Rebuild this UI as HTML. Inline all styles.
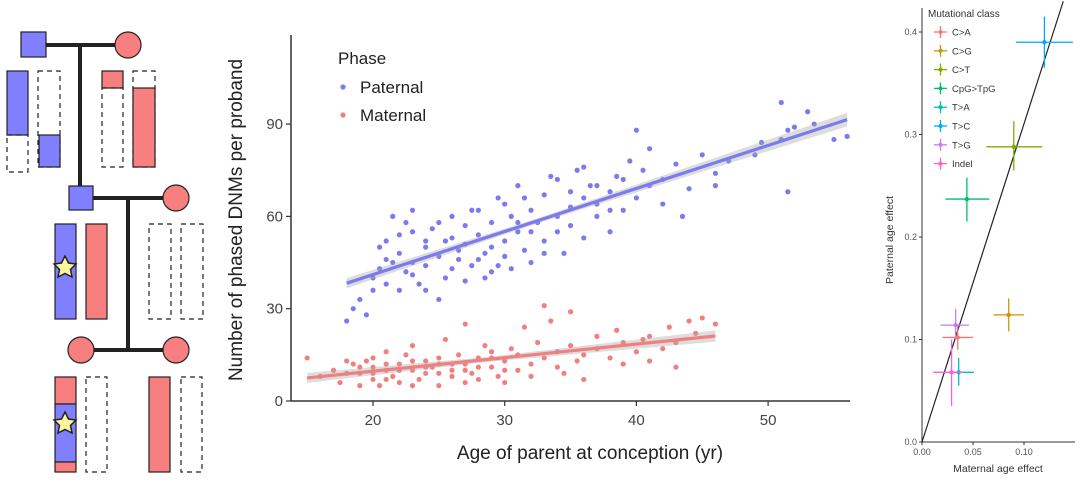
<!DOCTYPE html>
<html><head><meta charset="utf-8"><style>
body{margin:0;background:#fff}
svg{display:block;font-family:"Liberation Sans",Arial,sans-serif}
</style></head><body>
<svg id="fig" width="1080" height="485" viewBox="0 0 1080 485">
<g id="pedigree" stroke="#222" stroke-width="1.2">
  <line x1="46" y1="45" x2="115" y2="45" stroke-width="4"/>
  <line x1="80" y1="45" x2="80" y2="190" stroke-width="4"/>
  <rect x="21" y="32" width="25" height="25" fill="#7f7fff"/>
  <circle cx="128" cy="45" r="13" fill="#f77f7f"/>
  <rect x="7" y="71" width="21" height="64" fill="#7f7fff"/>
  <rect x="7" y="135" width="21" height="37" fill="none" stroke-dasharray="5,4"/>
  <rect x="38" y="71" width="22" height="96" fill="none" stroke-dasharray="5,4"/>
  <rect x="39" y="135" width="21" height="32" fill="#7f7fff"/>
  <rect x="102" y="71" width="21" height="17" fill="#f77f7f"/>
  <rect x="102" y="88" width="21" height="79" fill="none" stroke-dasharray="5,4"/>
  <rect x="133" y="71" width="22" height="96" fill="none" stroke-dasharray="5,4"/>
  <rect x="133" y="88" width="22" height="79" fill="#f77f7f"/>
  <line x1="93" y1="198" x2="163" y2="198" stroke-width="4"/>
  <line x1="128" y1="198" x2="128" y2="350" stroke-width="4"/>
  <rect x="69" y="186" width="24" height="24" fill="#7f7fff"/>
  <circle cx="176" cy="198" r="13" fill="#f77f7f"/>
  <rect x="55" y="224" width="21" height="95" fill="#7f7fff"/>
  <rect x="86" y="224" width="21" height="95" fill="#f77f7f"/>
  <rect x="149" y="224" width="22" height="95" fill="none" stroke-dasharray="5,4"/>
  <rect x="181" y="224" width="22" height="95" fill="none" stroke-dasharray="5,4"/>
  <polygon points="65,256 68.5,263 76,264 70.5,269.5 72,277 65,273.5 58,277 59.5,269.5 54,264 61.5,263" fill="#fbf59b" stroke-width="1.5"/>
  <line x1="94" y1="350" x2="163" y2="350" stroke-width="4"/>
  <circle cx="81" cy="350" r="13" fill="#f77f7f"/>
  <circle cx="176" cy="350" r="13" fill="#f77f7f"/>
  <rect x="55" y="377" width="21" height="27" fill="#f77f7f"/>
  <rect x="55" y="404" width="21" height="58" fill="#7f7fff"/>
  <rect x="55" y="462" width="21" height="10" fill="#f77f7f"/>
  <polygon points="65,412 68.5,419 76,420 70.5,425.5 72,433 65,429.5 58,433 59.5,425.5 54,420 61.5,419" fill="#fbf59b" stroke-width="1.5"/>
  <rect x="86" y="377" width="21" height="95" fill="none" stroke-dasharray="5,4"/>
  <rect x="149" y="377" width="21" height="95" fill="#f77f7f"/>
  <rect x="181" y="377" width="21" height="95" fill="none" stroke-dasharray="5,4"/>
</g>
<g id="main"></g>
<g id="right"></g>
</svg>
<script>
const patAge=[18,18.5,19,19.5,20,20,20.5,21,21,21,21.5,22,22,22.5,23,23,23,23.5,24,24,24.5,25,25,25.5,26,26,26.5,27,27,27.5,28,28,28.5,29,29,29.5,30,30,30.5,31,31,31.5,32,32,32.5,33,33,34,34,34.5,35,35,35.5,36,36,36.5,37,37,38,38,38.5,39,39,39.5,40,40,40.5,41,41,42,42,43,43.5,44,45,46,46,47,49,49.5,51,51,51.5,51.5,52,53,53.5,55,56,20.5,21.5,22,22.5,23,24,24,25,25.5,26,26.5,27,27.5,28,28.5,29,29.5,30,30.5,31,31.5,32,33,33.5,34,35,36,37,38];
const patVal=[26,30,33,28,36,40,43,38,46,52,60,48,36,42,45,55,62,38,50,44,56,47,33,52,43,60,49,39,57,44,54,62,48,58,42,66,52,47,60,55,70,49,62,45,58,67,52,60,72,48,63,57,75,66,53,70,60,64,68,55,73,72,62,78,66,88,75,70,82,64,72,77,60,69,80,74,70,78,80,84,85,97,88,68,89,94,90,85,86,50,45,54,58,41,36,52,58,40,53,46,51,62,46,40,50,44,64,43,58,66,55,48,73,55,68,76,70,62];
const matAge=[15,16,17,17.5,18,18.5,19,19,19.5,20,20,20,20.5,21,21,21.5,22,22,22.5,23,23,23.5,24,24,24.5,25,25,25.5,26,26,26.5,27,27,27.5,28,28,28.5,29,29,29.5,30,30,30.5,31,31,31.5,32,32,32.5,33,33,33.5,34,34,34.5,35,35,35.5,36,36,37,37,38,38.5,39,39,40,40.5,41,41,42,42.5,43,43,44,44.5,45,46,18,19,20,21,22,23,24,25,26,27,28,29,30,21,23,25,27];
const matVal=[14,8,10,6,9,12,5,9,13,7,11,14,5,10,16,8,12,6,15,10,18,7,13,9,11,5,14,20,10,8,15,12,25,9,14,7,18,11,16,8,13,6,17,10,15,24,12,8,19,31,14,26,11,16,9,18,29,13,15,7,17,21,14,23,12,19,16,20,13,21,17,24,11,19,26,22,27,25,13,11,9,12,10,13,11,9,12,10,11,14,10,7,5,12,6];
const xTicks=[20,30,40,50];
const yTicks=[0,30,60,90];

const classes=["C>A","C>G","C>T","CpG>TpG","T>A","T>C","T>G","Indel"];
const colors=["#F8766D","#CD9600","#7CAE00","#00BE67","#00BFC4","#00A9FF","#C77CFF","#FF61CC"];
const matEff=[0.035,0.085,0.090,0.044,0.036,0.120,0.033,0.029];
const patEff=[0.102,0.124,0.288,0.237,0.068,0.390,0.114,0.068];
const matLo=[0.020,0.070,0.063,0.023,0.026,0.092,0.018,0.011];
const matHi=[0.050,0.100,0.118,0.066,0.051,0.148,0.046,0.040];
const patLo=[0.090,0.108,0.265,0.215,0.055,0.365,0.100,0.035];
const patHi=[0.115,0.140,0.313,0.258,0.082,0.415,0.130,0.100];
const rxTicks=[0,0.05,0.10];
const rxLabels=["0.00","0.05","0.10"];
const ryTicks=[0,0.1,0.2,0.3,0.4];
const ryLabels=["0.0","0.1","0.2","0.3","0.4"];

const NS="http://www.w3.org/2000/svg";
function mk(parent,tag,attrs){const e=document.createElementNS(NS,tag);for(const k in attrs)e.setAttribute(k,attrs[k]);parent.appendChild(e);return e;}

const g=document.getElementById('main');
const X=a=>373+(a-20)*13.17;
const Y=v=>401-v*3.077;
let e;
e=mk(g,'line',{x1:291,y1:35,x2:291,y2:401,stroke:'#333','stroke-width':1.5});


e=mk(g,'line',{x1:291,y1:401,x2:850,y2:401,stroke:'#333','stroke-width':1.5});


xTicks.forEach(t=>{
  mk(g,'line',{x1:X(t),y1:401,x2:X(t),y2:406,stroke:'#333','stroke-width':1.2});
  e=mk(g,'text',{x:X(t),y:425,'text-anchor':'middle','font-size':15,fill:'#444'});e.textContent=t;
  
  
});
yTicks.forEach(t=>{
  mk(g,'line',{x1:286,y1:Y(t),x2:291,y2:Y(t),stroke:'#333','stroke-width':1.2});
  e=mk(g,'text',{x:283,y:Y(t)+5,'text-anchor':'end','font-size':15,fill:'#444'});e.textContent=t;
  
  
});
e=mk(g,'text',{x:590,y:459,'text-anchor':'middle','font-size':19,fill:'#222'});e.textContent='Age of parent at conception (yr)';


e=mk(g,'text',{x:0,y:0,transform:'translate(242,220) rotate(-90)','text-anchor':'middle','font-size':19,fill:'#222'});e.textContent='Number of phased DNMs per proband';



function fit(ax,vals){const n=ax.length;let mx=0,my=0;for(let i=0;i<n;i++){mx+=ax[i];my+=vals[i];}mx/=n;my/=n;let sxy=0,sxx=0;for(let i=0;i<n;i++){sxy+=(ax[i]-mx)*(vals[i]-my);sxx+=(ax[i]-mx)**2;}const b=sxy/sxx;return {a:my-b*mx,b,mx};}
function series(ages,vals,col,name){
  const sg=mk(g,'g',{});
  
  
  ages.forEach((a,i)=>{
    const c=mk(sg,'circle',{cx:X(a),cy:Y(vals[i]),r:2.6,fill:col});
    
    
  });
  const f=fit(ages,vals);const lo=Math.min(...ages),hi=Math.max(...ages);
  const pts=[],pts2=[];
  for(let k=0;k<=20;k++){const a=lo+(hi-lo)*k/20;const y=f.a+f.b*a;const w=0.8+0.06*Math.abs(a-f.mx);pts.push(X(a)+','+Y(y+w));pts2.unshift(X(a)+','+Y(y-w));}
  e=mk(sg,'polygon',{points:pts.concat(pts2).join(' '),fill:'#aaa','fill-opacity':0.4});
  
  
  e=mk(sg,'line',{x1:X(lo),y1:Y(f.a+f.b*lo),x2:X(hi),y2:Y(f.a+f.b*hi),stroke:col,'stroke-width':3.2});
  
  
}
series(patAge,patVal,'#7b7bee','paternal');
series(matAge,matVal,'#f08080','maternal');
const lg=mk(g,'g',{});


e=mk(lg,'text',{x:338,y:64,'font-size':17,fill:'#222'});e.textContent='Phase';


[['Paternal','#7b7bee',93],['Maternal','#f08080',121]].forEach(([t,c,y])=>{
  e=mk(lg,'circle',{cx:343,cy:y-6,r:2.6,fill:c});
  
  
  e=mk(lg,'text',{x:360,y:y,'font-size':17,fill:'#222'});e.textContent=t;
  
  
});

const r=document.getElementById('right');
const RX=v=>922+v*1020;
const RY=v=>442-v*1025;
e=mk(r,'line',{x1:922,y1:8,x2:922,y2:442,stroke:'#333','stroke-width':1});


e=mk(r,'line',{x1:922,y1:442,x2:1075,y2:442,stroke:'#333','stroke-width':1});


rxTicks.forEach((t,i)=>{
  mk(r,'line',{x1:RX(t),y1:442,x2:RX(t),y2:445,stroke:'#333'});
  e=mk(r,'text',{x:RX(t),y:455,'text-anchor':'middle','font-size':9,fill:'#555'});e.textContent=rxLabels[i];
  
  
});
ryTicks.forEach((t,i)=>{
  mk(r,'line',{x1:919,y1:RY(t),x2:922,y2:RY(t),stroke:'#333'});
  e=mk(r,'text',{x:917,y:RY(t)+3,'text-anchor':'end','font-size':9,fill:'#555'});e.textContent=ryLabels[i];
  
  
});
e=mk(r,'text',{x:998,y:472,'text-anchor':'middle','font-size':10.5,fill:'#333'});e.textContent='Maternal age effect';


e=mk(r,'text',{x:0,y:0,transform:'translate(893,240) rotate(-90)','text-anchor':'middle','font-size':10.5,fill:'#333'});e.textContent='Paternal age effect';


e=mk(r,'line',{x1:RX(0),y1:RY(0),x2:RX(0.1385),y2:RY(0.43),stroke:'#222','stroke-width':1.2});


classes.forEach((c,i)=>{
  const pg=mk(r,'g',{});
  
  
  mk(pg,'line',{x1:RX(matLo[i]),y1:RY(patEff[i]),x2:RX(Math.min(matHi[i],0.15)),y2:RY(patEff[i]),stroke:colors[i],'stroke-width':1.3});
  mk(pg,'line',{x1:RX(matEff[i]),y1:RY(patLo[i]),x2:RX(matEff[i]),y2:RY(patHi[i]),stroke:colors[i],'stroke-width':1.3});
  mk(pg,'circle',{cx:RX(matEff[i]),cy:RY(patEff[i]),r:2.2,fill:colors[i]});
});
e=mk(r,'text',{x:928,y:17,'font-size':10,fill:'#333'});e.textContent='Mutational class';


classes.forEach((c,i)=>{
  const y=32+i*18.8;
  mk(r,'line',{x1:934,y1:y,x2:947,y2:y,stroke:colors[i],'stroke-width':1.3});
  mk(r,'line',{x1:940.5,y1:y-6,x2:940.5,y2:y+6,stroke:colors[i],'stroke-width':1.3});
  mk(r,'circle',{cx:940.5,cy:y,r:2,fill:colors[i]});
  e=mk(r,'text',{x:952,y:y+3.5,'font-size':9.5,fill:'#333'});e.textContent=c;
  
  
});
</script>
</body></html>
